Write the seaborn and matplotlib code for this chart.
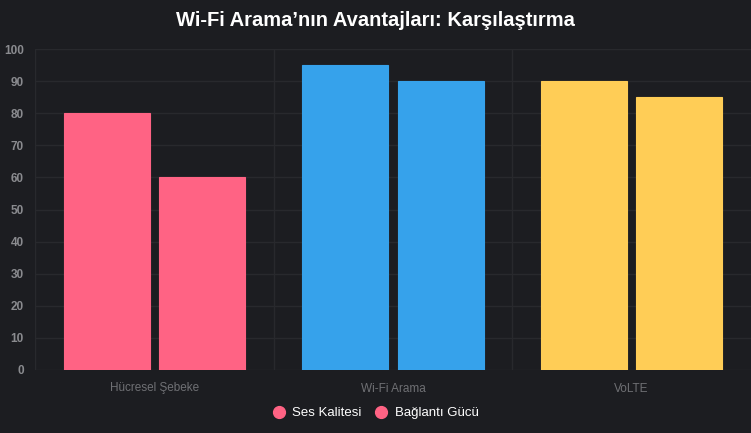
import pandas as pd
import matplotlib.pyplot as plt
import seaborn as sns
from matplotlib.lines import Line2D

categories = ["Hücresel Şebeke", "Wi-Fi Arama", "VoLTE"]
series = ["Ses Kalitesi", "Bağlantı Gücü"]
ses_kalitesi = [80, 95, 90]
baglanti_gucu = [60, 90, 85]
bar_colors = ["#ff6384", "#36a2eb", "#ffcd56"]
y_ticks = [0, 10, 20, 30, 40, 50, 60, 70, 80, 90, 100]

bg = "#1c1d21"
grid_col = "#28292d"

df = pd.DataFrame({
    "kategori": categories * 2,
    "seri": [series[0]] * 3 + [series[1]] * 3,
    "deger": ses_kalitesi + baglanti_gucu,
})

sns.set_theme(style="dark")
plt.rcParams["font.family"] = ["Liberation Sans", "DejaVu Sans"]

fig = plt.figure(figsize=(7.51, 4.33), dpi=100, facecolor=bg)
ax = fig.add_axes([35 / 751, 63 / 433, 716 / 751, 321 / 433])
ax.set_facecolor(bg)

sns.barplot(data=df, x="kategori", y="deger", hue="seri", order=categories,
            hue_order=series, width=0.8, gap=0.1, ax=ax, legend=False)

# colour each bar by its category, like the original
for container in ax.containers:
    for patch, col in zip(container.patches, bar_colors):
        patch.set_facecolor(col)
        patch.set_edgecolor(col)
        patch.set_linewidth(0.8)

ax.set_xlim(-0.5, 2.5)
ax.set_ylim(0, 100)
ax.set_yticks(y_ticks)
ax.set_yticklabels([str(t) for t in y_ticks], color="#8a8b8f", fontsize=8.5, fontweight="bold")
ax.tick_params(axis="x", colors="#6f7074", labelsize=8.5, length=0, pad=9)
ax.tick_params(axis="y", length=0, pad=8)
ax.set_xlabel("")
ax.set_ylabel("")

ax.grid(True, axis="y", color=grid_col, linewidth=1)
for xv in [-0.5, 0.5, 1.5]:
    ax.axvline(xv, color=grid_col, linewidth=1, zorder=0)
ax.set_axisbelow(True)
for s in ax.spines.values():
    s.set_visible(False)

fig.suptitle("Wi-Fi Arama’nın Avantajları: Karşılaştırma", color="white",
             fontsize=14.5, fontweight="bold", y=0.975)

handles = [Line2D([], [], marker="o", linestyle="", markersize=8.5,
                  markerfacecolor=bar_colors[0], markeredgecolor=bar_colors[0])
           for _ in series]
fig.legend(handles, series, loc="center", bbox_to_anchor=(0.5, 20 / 433),
           ncol=2, frameon=False, labelcolor="white", fontsize=9.5,
           handletextpad=0.5, columnspacing=1.0, handlelength=1.0)

fig.savefig("out.png", dpi=100, facecolor=bg)
